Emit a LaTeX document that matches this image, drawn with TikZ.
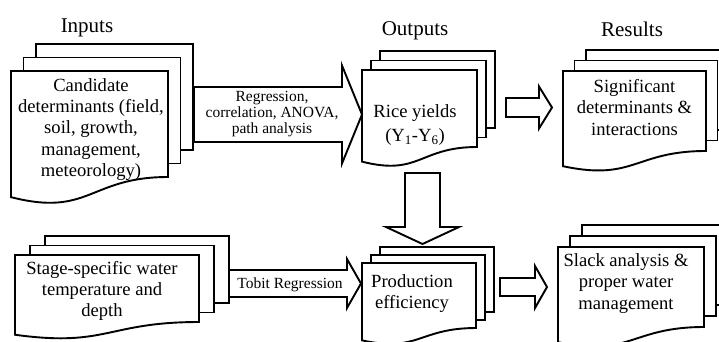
\documentclass[tikz,border=0pt]{standalone}
\usepackage{fontspec}
\setmainfont{Liberation Serif}
\tikzset{
    sheet/.style={draw, line width=1.9pt, fill=white}, % one page of a stack
    blockline/.style={draw, line width=1.9pt, fill=white}, % outline of the wide arrows
    boxtext/.style={align=center, inner sep=0pt, font=\fontsize{18.6}{21.2}\selectfont},
    headtext/.style={inner sep=0pt, anchor=base, font=\fontsize{21}{25}\selectfont},
    arrowtext/.style={align=center, inner sep=0pt, font=\fontsize{15.5}{16}\selectfont},
    pics/docstack/.style n args={4}{code={ % width, height, shift x, shift y
        \path[sheet] (2*#3,-2*#4) rectangle ++(#1,#2);
        \path[sheet] (#3,-#4) rectangle ++(#1,#2);
        \path[sheet] (0,0) -- (#1,0) -- (#1,#2) .. controls (#1/2,#2) and (#1/2,1.38*#2) .. (0,1.19*#2) -- cycle;
    }},
    pics/blockarrow/.style n args={4}{code={ % shaft length, half shaft, half head, head length
        \path[blockline] (0,-#2) -- (#1,-#2) -- (#1,-#3) -- (#1+#4,0) -- (#1,#3) -- (#1,#2) -- (0,#2) -- cycle;
    }},
}
\begin{document}
\begin{tikzpicture}[x=1pt, y=-1pt]
    \useasboundingbox (0,0) rectangle (719,341);
    \clip (0,0) rectangle (719,341);
    % column titles
    \node[headtext] (lin) at (87,32) {Inputs};
    \node[headtext] (lout) at (415,35) {Outputs};
    \node[headtext] (lres) at (632,36.5) {Results};
    % stacks of pages
    \pic at (11,71) {docstack={157}{106}{12.5}{13.5}};
    \pic at (362,70) {docstack={115}{77}{9}{9.5}};
    \pic at (563,71) {docstack={143}{80}{11.5}{10.5}};
    \pic at (15,255) {docstack={184}{67}{15}{9.5}};
    \pic at (362,263) {docstack={114}{65}{9}{8}};
    \pic at (558,247) {docstack={146}{80}{12}{11}};
    % wide arrows
    \pic at (194,114.5) {blockarrow={148}{27.5}{49}{20}};
    \pic at (506,107.5) {blockarrow={33}{9.5}{21}{13}};
    \pic[rotate=-90] at (422.5,173) {blockarrow={54}{17.5}{36.5}{17}};
    \pic at (229,283.5) {blockarrow={118}{13.5}{24.5}{14}};
    \pic at (500,287) {blockarrow={35}{9}{21}{12}};
    % texts
    \node[boxtext] (inputs) at (91,129.5) {Candidate\\determinants (field,\\soil, growth,\\management,\\meteorology)};
    \node[boxtext] (yields) at (415,125) {Rice yields\\[3pt](Y\textsubscript{1}-Y\textsubscript{6})};
    \node[boxtext] (signif) at (634.5,107.5) {Significant\\determinants \&\\interactions};
    \node[boxtext] (stage) at (102,291) {Stage-specific water\\temperature and\\depth};
    \node[boxtext] (effic) at (412,293.5) {Production\\efficiency};
    \node[boxtext] (slack) at (626,283.5) {Slack analysis \&\\proper water\\management};
    \node[arrowtext] (regtext) at (272,114) {Regression,\\correlation, ANOVA,\\path analysis};
    \node[arrowtext] (tobit) at (290,285) {Tobit Regression};
\end{tikzpicture}
\end{document}
